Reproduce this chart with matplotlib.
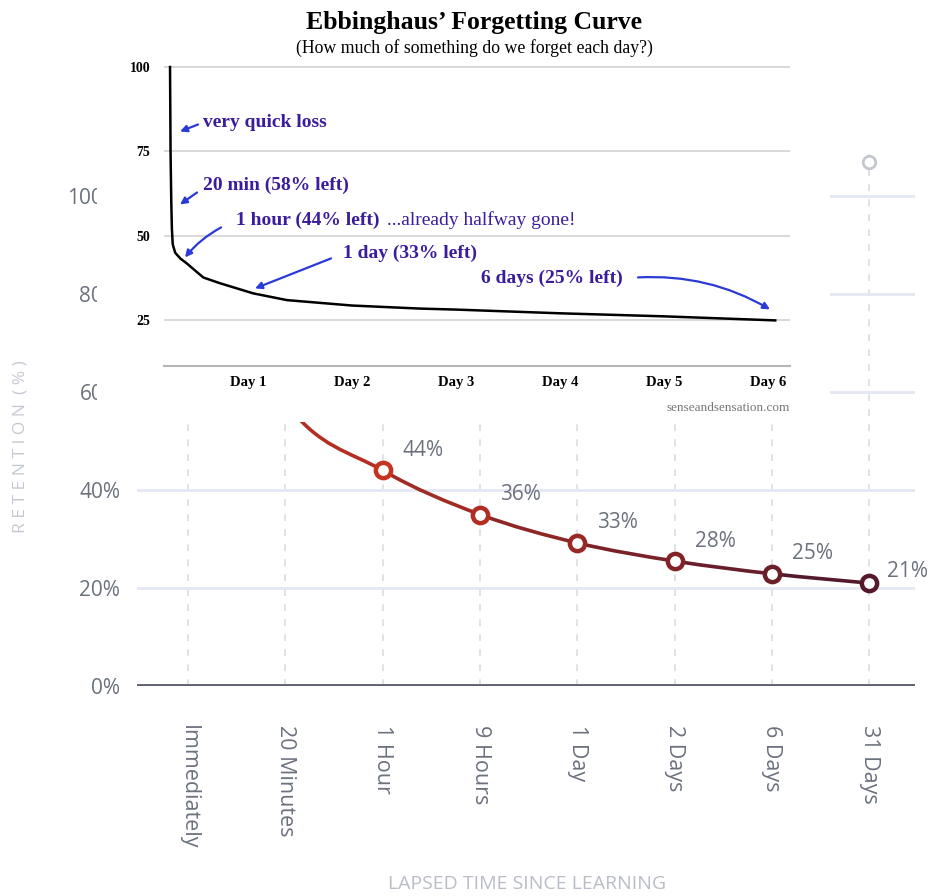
import matplotlib.pyplot as plt
import numpy as np
from matplotlib.path import Path
from matplotlib.patches import PathPatch

# background chart: retention after learning
categories = ['Immediately', '20 Minutes', '1 Hour', '9 Hours', '1 Day', '2 Days', '6 Days', '31 Days']
retention = [100, 58, 44, 35, 29.2, 25.5, 22.9, 21]
point_labels = ['', '', '44%', '36%', '33%', '28%', '25%', '21%']
hover_x = [7]
hover_y = [107]
y_ticks = [0, 20, 40, 60, 80, 100]

# inset: Ebbinghaus curve (x in days)
curve_days = [0.25, 0.255, 0.262, 0.268, 0.276, 0.30, 0.35, 0.41, 0.57, 0.73, 1.05, 1.375, 2.0, 2.65, 3.0, 4.0, 5.0, 6.07]
curve_vals = [100, 75, 60, 52, 47.5, 45.0, 43.3, 41.9, 37.7, 36.0, 33.0, 31.0, 29.4, 28.5, 28.2, 27.1, 26.2, 25.0]
day_ticks = [1, 2, 3, 4, 5, 6]
inset_yticks = [25, 50, 75, 100]

W, H = 934, 896
fig = plt.figure(figsize=(W / 100, H / 100), dpi=100)


def box(x0, y0, x1, y1):
    return [x0 / W, 1 - y1 / H, (x1 - x0) / W, (y1 - y0) / H]


# ---------- background chart ----------
ax = fig.add_axes(box(137, 147, 915, 686))
ax.set_zorder(0)
ax.set_xlim(-0.525, 7.47)
ax.set_ylim(0, 110)
for s in ax.spines.values():
    s.set_visible(False)

x = np.arange(len(categories))
ax.set_xticks(x)
ax.set_xticklabels(categories, rotation=270, fontsize=15.5, color='#6b717d', family='Open Sans')
ax.set_yticks(y_ticks)
ax.set_yticklabels([f'{v}%' for v in y_ticks], fontsize=15, color='#6b717d', family='Open Sans')
ax.tick_params(length=0)
ax.tick_params(axis='y', pad=12)
ax.tick_params(axis='x', pad=28)
ax.grid(axis='y', color='#e4e6f2', lw=2)
ax.grid(axis='x', color='#dcdde3', lw=1.2, ls=(0, (4, 5)))
ax.axhline(0, color='#5d626e', lw=3.5, zorder=3)

fig.text(527 / W, 1 - 884 / H, 'LAPSED TIME SINCE LEARNING', ha='center', va='center',
         fontsize=14, color='#b9bdc7', family='Open Sans')
ax.text(-0.150, 0.445, 'R E T E N T I O N  ( % )', transform=ax.transAxes, rotation=90,
        ha='center', va='center', fontsize=12.5, color='#c5c9d3', family='Open Sans')

# smooth line drawn as cubic bezier segments, colour fading red -> maroon
c_start = np.array([0.78, 0.20, 0.13])
c_end = np.array([0.33, 0.10, 0.17])
n = len(retention)
pts = np.column_stack([x, retention]).astype(float)
ext = np.vstack([pts[0], pts, pts[-1]])
for i in range(n - 1):
    p0, p1, p2, p3 = ext[i], ext[i + 1], ext[i + 2], ext[i + 3]
    c1 = p1 + (p2 - p0) / 6
    c2 = p2 - (p3 - p1) / 6
    t = i / (n - 2)
    col = c_start * (1 - t) + c_end * t
    path = Path([p1, c1, c2, p2], [Path.MOVETO, Path.CURVE4, Path.CURVE4, Path.CURVE4])
    ax.add_patch(PathPatch(path, fc='none', ec=col, lw=2.6, zorder=4))

for i in range(n):
    t = min(max((i - 2) / (n - 3), 0), 1)
    col = c_start * (1 - t) + c_end * t
    ax.plot(x[i], retention[i], 'o', ms=11, mfc='white', mec=col, mew=3.2, zorder=5)
    if point_labels[i]:
        off = (18, 12) if i == n - 1 else (20, 20)
        ax.annotate(point_labels[i], (x[i], retention[i]), xytext=off, textcoords='offset pixels',
                    ha='left', va='center', fontsize=15, color='#6b717d', family='Open Sans')

ax.plot(hover_x, hover_y, 'o', ms=9, mfc='white', mec='#c4c7cf', mew=2, zorder=5, clip_on=False)

# ---------- white cover for the pasted inset ----------
cover = fig.add_axes(box(97, 0, 830, 422))
cover.set_zorder(1)
cover.set_facecolor('white')
cover.set_xticks([])
cover.set_yticks([])
for s in cover.spines.values():
    s.set_visible(False)

# ---------- inset chart ----------
axi = fig.add_axes(box(164, 65, 790, 366))
axi.set_zorder(2)
axi.set_facecolor('none')
axi.set_xlim(0.192, 6.212)
axi.set_ylim(11.5, 100.6)
for k in ['top', 'right', 'left']:
    axi.spines[k].set_visible(False)
axi.spines['bottom'].set_color('#b5b5b5')
axi.spines['bottom'].set_linewidth(1.5)
serif = 'Liberation Serif'
axi.set_yticks(inset_yticks)
axi.set_yticklabels([str(v) for v in inset_yticks], fontsize=10, fontweight='bold', family=serif)
axi.set_xticks(day_ticks)
axi.set_xticklabels([f'Day {d}' for d in day_ticks], fontsize=10.5, fontweight='bold', family=serif)
axi.tick_params(length=0)
axi.tick_params(axis='y', pad=10)
axi.tick_params(axis='x', pad=7)
axi.grid(axis='y', color='#d6d6d6', lw=1.3)
axi.plot(curve_days, curve_vals, color='black', lw=1.8, zorder=3)

txt_col = '#3a1c9f'
arr_col = '#2a3ad6'


def d(px, py):
    return (1 + (px - 248) / 104, 25 + (320 - py) * 25 / 84.5)


notes = [
    ('very quick loss', 203, 122, 'bold'),
    ('20 min (58% left)', 203, 185, 'bold'),
    ('1 hour (44% left)', 236, 220, 'bold'),
    ('...already halfway gone!', 387, 220, 'normal'),
    ('1 day (33% left)', 343, 253, 'bold'),
    ('6 days (25% left)', 481, 278, 'bold'),
]
for s, px, py, w in notes:
    axi.text(*d(px, py), s, ha='left', va='center', fontsize=14, fontweight=w,
             color=txt_col, family=serif, zorder=4)

arrows = [
    ((198, 124), (180, 131), 0.0),
    ((197, 192), (180, 204), 0.0),
    ((221, 227), (185, 257), 0.1),
    ((331, 258), (255, 288), 0.0),
    ((638, 277), (770, 309), -0.15),
]
for (tx, ty), (hx, hy), rad in arrows:
    axi.annotate('', xy=d(hx, hy), xytext=d(tx, ty),
                 arrowprops=dict(arrowstyle='-|>', color=arr_col, lw=1.6, mutation_scale=10,
                                 shrinkA=0, shrinkB=0, connectionstyle=f'arc3,rad={rad}'),
                 zorder=4)

fig.text(474 / W, 1 - 22 / H, 'Ebbinghaus\u2019 Forgetting Curve', ha='center', va='center',
         fontsize=18.5, fontweight='bold', family=serif, zorder=10)
fig.text(474 / W, 1 - 48 / H, '(How much of something do we forget each day?)', ha='center', va='center',
         fontsize=12.8, family=serif, zorder=10)
fig.text(790 / W, 1 - 408 / H, 'senseandsensation.com', ha='right', va='center',
         fontsize=9.5, color='#777777', family=serif, zorder=10)

fig.savefig('out.png', dpi=100)
